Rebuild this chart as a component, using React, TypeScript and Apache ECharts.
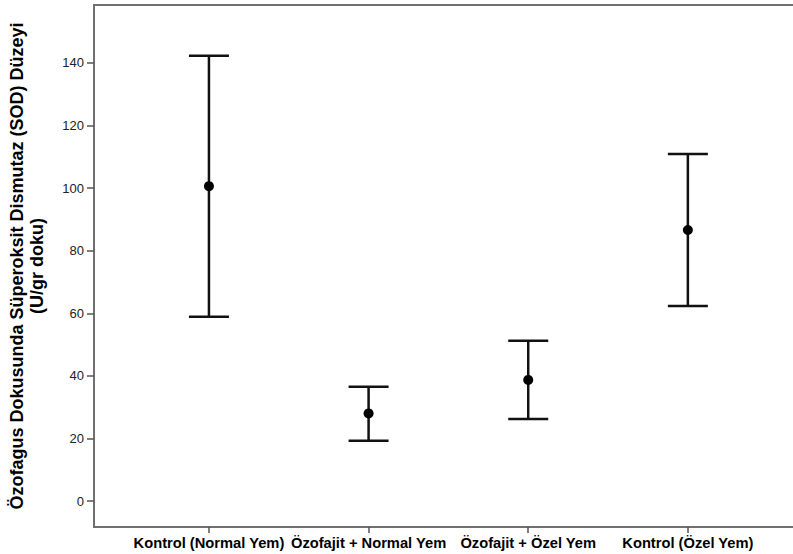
import React, { useEffect, useRef } from "react";
import * as echarts from "echarts";

const categories = [
  "Kontrol (Normal Yem)",
  "Özofajit + Normal Yem",
  "Özofajit + Özel Yem",
  "Kontrol (Özel Yem)",
];
const means = [100.6, 28.0, 38.7, 86.6];
const lower = [58.9, 19.3, 26.2, 62.3];
const upper = [142.3, 36.5, 51.2, 110.9];
const yTicks = [0, 20, 40, 60, 80, 100, 120, 140];
const yTitle = "Özofagus Dokusunda Süperoksit Dismutaz (SOD) Düzeyi\n(U/gr doku)";

export default function App() {
  const ref = useRef<HTMLDivElement>(null);
  useEffect(() => {
    if (!ref.current) return;
    const chart = echarts.init(ref.current, null, { renderer: "svg" });
    const data = categories.map((_, i) => [i, lower[i], upper[i], means[i]]);
    const font = "'Liberation Sans', Arial, sans-serif";
    chart.setOption({
      animation: false,
      grid: {
        left: 94,
        top: 5,
        width: 712,
        height: 522,
        show: true,
        borderColor: "#707070",
        borderWidth: 2,
        containLabel: false,
        outerBoundsMode: "none",
      },
      xAxis: {
        type: "value",
        min: -0.72,
        max: 3.74,
        splitLine: { show: false },
        axisLine: { show: true, onZero: false, lineStyle: { color: "#707070", width: 2 } },
        axisTick: { show: true, customValues: [0, 1, 2, 3], length: 6, lineStyle: { color: "#555", width: 1.5 } },
        axisLabel: {
          customValues: [0, 1, 2, 3],
          formatter: (v: number) => categories[Math.round(v)] ?? "",
          color: "#000",
          fontWeight: "bold",
          fontSize: 14.7,
          fontFamily: font,
          margin: 8,
          hideOverlap: false,
          showMinLabel: true,
          showMaxLabel: true,
        },
      },
      yAxis: {
        type: "value",
        min: -8.3,
        max: 158.5,
        splitLine: { show: false },
        axisLine: { show: true, onZero: false, lineStyle: { color: "#707070", width: 2 } },
        axisTick: { show: true, customValues: yTicks, length: 7, lineStyle: { color: "#555", width: 1.5 } },
        axisLabel: {
          customValues: yTicks,
          color: "#222",
          fontSize: 13,
          fontFamily: font,
          margin: 10,
        },
        name: yTitle,
        nameLocation: "middle",
        nameGap: 47,
        nameRotate: 90,
        nameTextStyle: {
          color: "#000",
          fontWeight: "bold",
          fontSize: 18,
          fontFamily: font,
          lineHeight: 20,
          align: "center",
        },
      },
      series: [
        {
          type: "custom",
          data,
          renderItem: (params: any, api: any) => {
            const x = api.value(0);
            const lo = api.coord([x, api.value(1)]);
            const hi = api.coord([x, api.value(2)]);
            const m = api.coord([x, api.value(3)]);
            const hw = 20;
            const style = { stroke: "#111", lineWidth: 2.5 };
            return {
              type: "group",
              children: [
                { type: "line", shape: { x1: hi[0], y1: hi[1], x2: lo[0], y2: lo[1] }, style },
                { type: "line", shape: { x1: hi[0] - hw, y1: hi[1], x2: hi[0] + hw, y2: hi[1] }, style },
                { type: "line", shape: { x1: lo[0] - hw, y1: lo[1], x2: lo[0] + hw, y2: lo[1] }, style },
                { type: "circle", shape: { cx: m[0], cy: m[1], r: 5 }, style: { fill: "#000" } },
              ],
            };
          },
        },
      ],
    });
    return () => chart.dispose();
  }, []);
  return (
    <div
      ref={ref}
      style={{ position: "fixed", left: 0, top: 0, width: 793, height: 554, background: "#fff" }}
    />
  );
}
